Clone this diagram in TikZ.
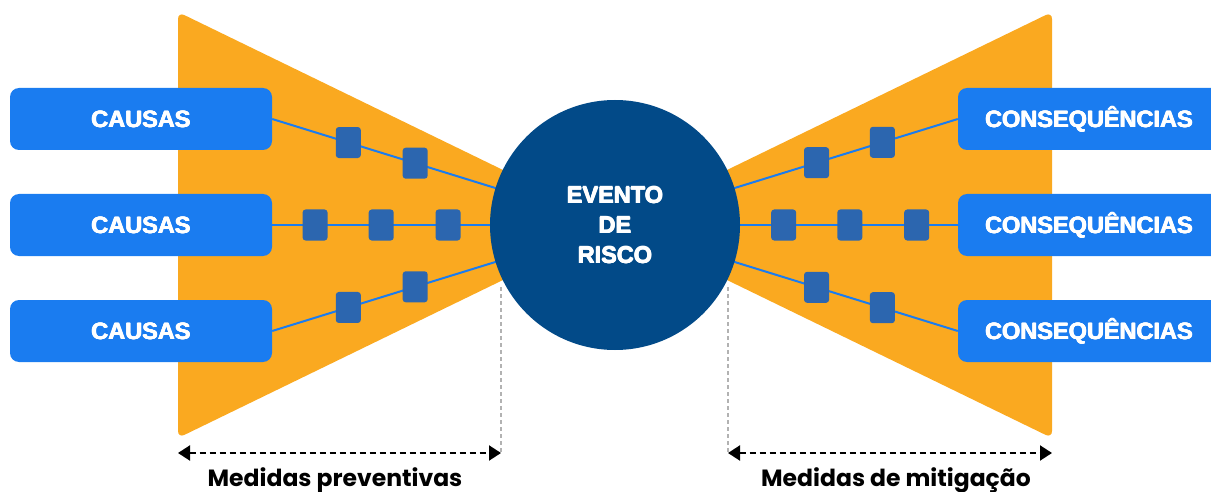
\documentclass[tikz,border=0pt]{standalone}
\usepackage{fontspec}
\setmainfont{Liberation Sans}
\newfontfamily\heavyfont{Liberation Sans Bold}
\newfontfamily\captionfont{Poppins}
\usetikzlibrary{calc,arrows.meta}
\definecolor{bowtie}{HTML}{FAA920}
\definecolor{boxblue}{HTML}{1A7CF0}
\definecolor{riskblue}{HTML}{024A88}
\definecolor{barrier}{HTML}{2C66AF}
\pgfdeclarelayer{bg}
\pgfdeclarelayer{mid}
\pgfsetlayers{bg,mid,main}
% heavier lettering: overlay slightly shifted copies of the text
\newcommand\heavytext[1]{\leavevmode
  \rlap{\kern-0.45pt#1}\rlap{\kern0.45pt#1}%
  \rlap{\raisebox{0.45pt}{#1}}\rlap{\raisebox{-0.45pt}{#1}}#1}

\begin{document}
\begin{tikzpicture}[x=1pt,y=-1pt,
  endbox/.style={fill=boxblue, rounded corners=9pt, minimum width=262pt,
    minimum height=62pt, inner sep=0pt, text=white, text height=17pt, text depth=0pt,
    font=\heavyfont\fontsize{23.5}{28}\selectfont},
  risk/.style={circle, fill=riskblue, minimum size=250pt, inner sep=0pt,
    text=white, align=center, font=\heavyfont\fontsize{23.5}{30}\selectfont},
  barrierbox/.style={fill=barrier, rounded corners=3pt, minimum width=25pt,
    minimum height=31pt, inner sep=0pt},
  link/.style={draw=boxblue, line width=2pt},
  wing/.style={fill=bowtie, rounded corners=7pt},
  guide/.style={draw=gray!60, line width=1.3pt, dash pattern=on 4pt off 3pt},
  span/.style={draw=black, line width=2pt, dash pattern=on 6pt off 4pt,
    {Triangle[length=12pt,width=15pt]}-{Triangle[length=12pt,width=15pt]}},
  caption/.style={anchor=base, font=\captionfont\fontsize{23.5}{28}\selectfont\bfseries}]

\useasboundingbox (0,0) rectangle (1211,492);
\clip (0,0) rectangle (1211,492);

% bow-tie wings
\begin{pgfonlayer}{bg}
  \fill[wing] (178,12) -- (560,197.7) -- (560,252.3) -- (178,438) -- cycle;
  \fill[wing] (1052,12) -- (670,197.7) -- (670,252.3) -- (1052,438) -- cycle;
\end{pgfonlayer}

% causes, consequences and the central event
\node[endbox] (c1) at (141,119) {\heavytext{CAUSAS}};
\node[endbox] (c2) at (141,225) {\heavytext{CAUSAS}};
\node[endbox] (c3) at (141,331) {\heavytext{CAUSAS}};
\node[endbox] (q1) at (1089,119) {\heavytext{CONSEQUÊNCIAS}};
\node[endbox] (q2) at (1089,225) {\heavytext{CONSEQUÊNCIAS}};
\node[endbox] (q3) at (1089,331) {\heavytext{CONSEQUÊNCIAS}};
\node[risk] (ev) at (615,225) {\heavytext{EVENTO}\\\heavytext{DE}\\\heavytext{RISCO}};

% threat and consequence lines with their barriers
\begin{pgfonlayer}{mid}
  \draw[link] (c1.east) -- (ev.center)
    node[barrierbox, pos=0.222] (b11) {} node[barrierbox, pos=0.417] (b12) {};
  \draw[link] (c2.east) -- (ev.center)
    node[barrierbox, pos=0.125] (b21) {} node[barrierbox, pos=0.318] (b22) {}
    node[barrierbox, pos=0.513] (b23) {};
  \draw[link] (c3.east) -- (ev.center)
    node[barrierbox, pos=0.222] (b31) {} node[barrierbox, pos=0.417] (b32) {};
  \draw[link] (q1.west) -- (ev.center)
    node[barrierbox, pos=0.22] (d11) {} node[barrierbox, pos=0.412] (d12) {};
  \draw[link] (q2.west) -- (ev.center)
    node[barrierbox, pos=0.12] (d21) {} node[barrierbox, pos=0.315] (d22) {}
    node[barrierbox, pos=0.508] (d23) {};
  \draw[link] (q3.west) -- (ev.center)
    node[barrierbox, pos=0.22] (d31) {} node[barrierbox, pos=0.412] (d32) {};
\end{pgfonlayer}

% extent markers
\coordinate (gl1) at (501,287);
\coordinate (gl2) at (501,453);
\coordinate (gr1) at (728,287);
\coordinate (gr2) at (728,453);
\coordinate (sl) at (178,453);
\coordinate (sr) at (1052,453);
\draw[guide] (gl1) -- (gl2);
\draw[guide] (gr1) -- (gr2);
\draw[span] (sl) -- (gl2);
\draw[span] (gr2) -- (sr);

\node[caption] (m1) at (335,486) {Medidas preventivas};
\node[caption] (m2) at (896,486) {Medidas de mitigação};
\end{tikzpicture}
\end{document}
